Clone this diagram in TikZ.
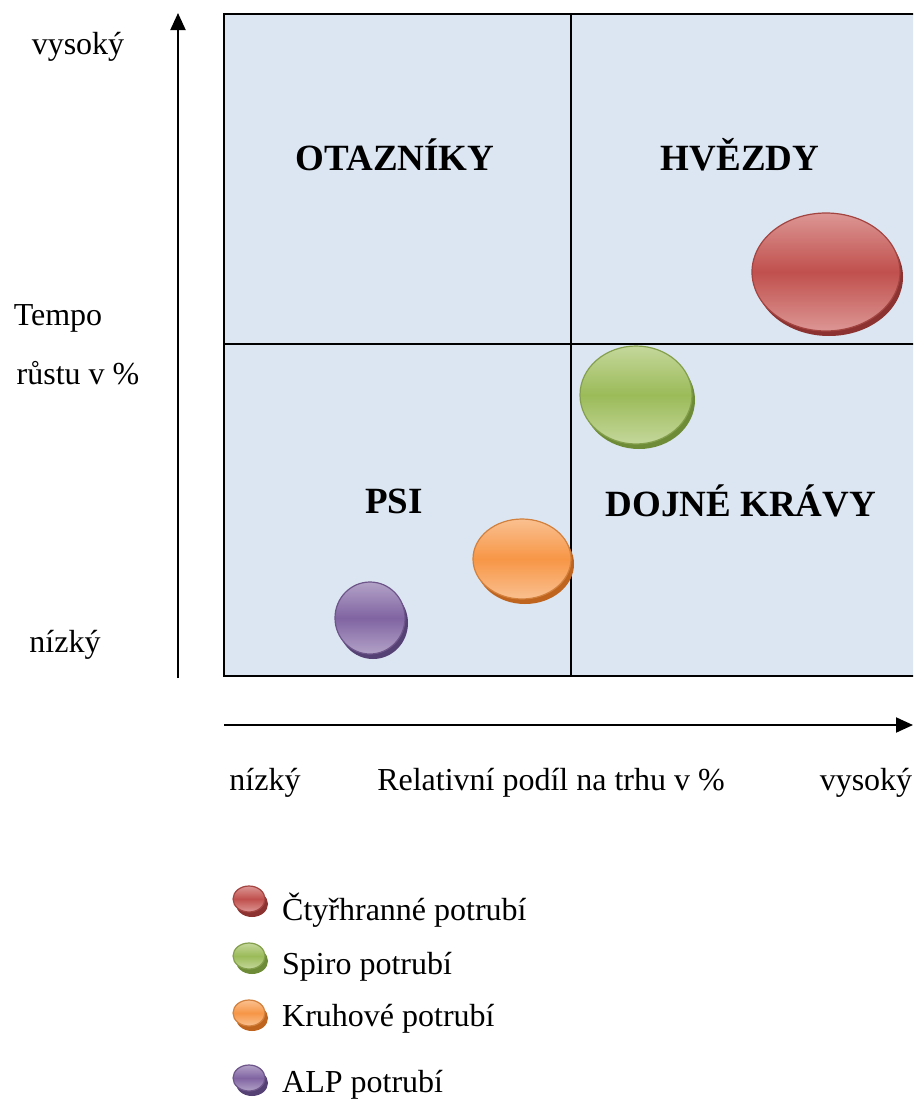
\documentclass[tikz,border=0pt]{standalone}
\usepackage{fontspec}
\setmainfont{Liberation Serif}
\usetikzlibrary{arrows.meta,calc}
\definecolor{cellbg}{RGB}{220,230,242}
\definecolor{redM}{RGB}{192,80,77}\definecolor{redL}{RGB}{220,150,148}\definecolor{redD}{RGB}{140,50,48}
\definecolor{grnM}{RGB}{155,187,89}\definecolor{grnL}{RGB}{196,215,155}\definecolor{grnD}{RGB}{110,140,55}
\definecolor{orgM}{RGB}{247,150,70}\definecolor{orgL}{RGB}{250,192,144}\definecolor{orgD}{RGB}{190,100,30}
\definecolor{purM}{RGB}{128,100,162}\definecolor{purL}{RGB}{179,162,199}\definecolor{purD}{RGB}{85,65,115}
\tikzset{
  axislabel/.style={font=\fontsize{32}{36}\selectfont, inner sep=0pt},
  quadlabel/.style={font=\fontsize{37}{42}\selectfont\bfseries, inner sep=0pt},
  axisarrow/.style={line width=2pt, -{Triangle[length=17pt,width=15pt]}},
  gridline/.style={line width=1.6pt},
}
% bubble: #1 centre, #2 rx, #3 ry, #4 colour prefix, #5 node name
\newcommand{\bubble}[5]{%
  \fill[#4D] ($(#1)+(3,5)$) ellipse [x radius=#2, y radius=#3];
  \shade[top color=#4L, bottom color=#4L, middle color=#4M, draw=#4M!85!black, line width=1.2pt]
    (#1) ellipse [x radius=#2, y radius=#3];
  \node[inner sep=0pt, minimum width=2*#2, minimum height=2*#3] (#5) at (#1) {};
}
\begin{document}
\begin{tikzpicture}[x=1pt,y=-1pt]
\useasboundingbox (0,0) rectangle (913,1100);
\fill[white] (0,0) rectangle (913,1100);
% quadrant grid, clipped at the right edge
\begin{scope}
\clip (0,0) rectangle (913,1100);
\coordinate (gtl) at (224,14);
\coordinate (gbr) at (918,676);
\fill[cellbg] (gtl) rectangle (gbr);
\draw[gridline] (gtl) rectangle (gbr);
\draw[gridline] (571,14) -- (571,676);
\draw[gridline] (224,344) -- (918,344);
\end{scope}
\node[quadlabel] (qa) at (395,155) {OTAZNÍKY};
\node[quadlabel] (qb) at (740,155) {HVĚZDY};
\node[quadlabel] (qc) at (394,501) {PSI};
\node[quadlabel] (qd) at (741,501) {DOJNÉ KRÁVY};
% bubbles
\bubble{826,272}{74}{59}{red}{b1}
\bubble{636,395}{56}{49}{grn}{b2}
\bubble{522,559}{49}{40}{org}{b3}
\bubble{370,618}{35}{36}{pur}{b4}
% axes
\coordinate (ya) at (178,678);
\coordinate (yb) at (178,13);
\draw[axisarrow] (ya) -- (yb);
\coordinate (xa) at (224,725);
\coordinate (xb) at (913,725);
\draw[axisarrow] (xa) -- (xb);
% axis labels
\node[axislabel] (l1) at (78,47) {vysoký};
\node[axislabel] (l2) at (58,318) {Tempo};
\node[axislabel] (l3) at (78,373) {růstu v \%};
\node[axislabel] (l4) at (65,645) {nízký};
\node[axislabel] (l5) at (265,783) {nízký};
\node[axislabel] (l6) at (551,783) {Relativní podíl na trhu v \%};
\node[axislabel] (l7) at (866,783) {vysoký};
% legend
\bubble{249,899}{16}{13}{red}{k1}
\bubble{249,956}{16}{13}{grn}{k2}
\bubble{249,1013}{16}{13}{org}{k3}
\bubble{249,1078}{16}{13}{pur}{k4}
\node[axislabel, anchor=west] (t1) at (282,910) {Čtyřhranné potrubí};
\node[axislabel, anchor=west] (t2) at (282,967) {Spiro potrubí};
\node[axislabel, anchor=west] (t3) at (282,1019) {Kruhové potrubí};
\node[axislabel, anchor=west] (t4) at (282,1085) {ALP potrubí};
\end{tikzpicture}
\end{document}
